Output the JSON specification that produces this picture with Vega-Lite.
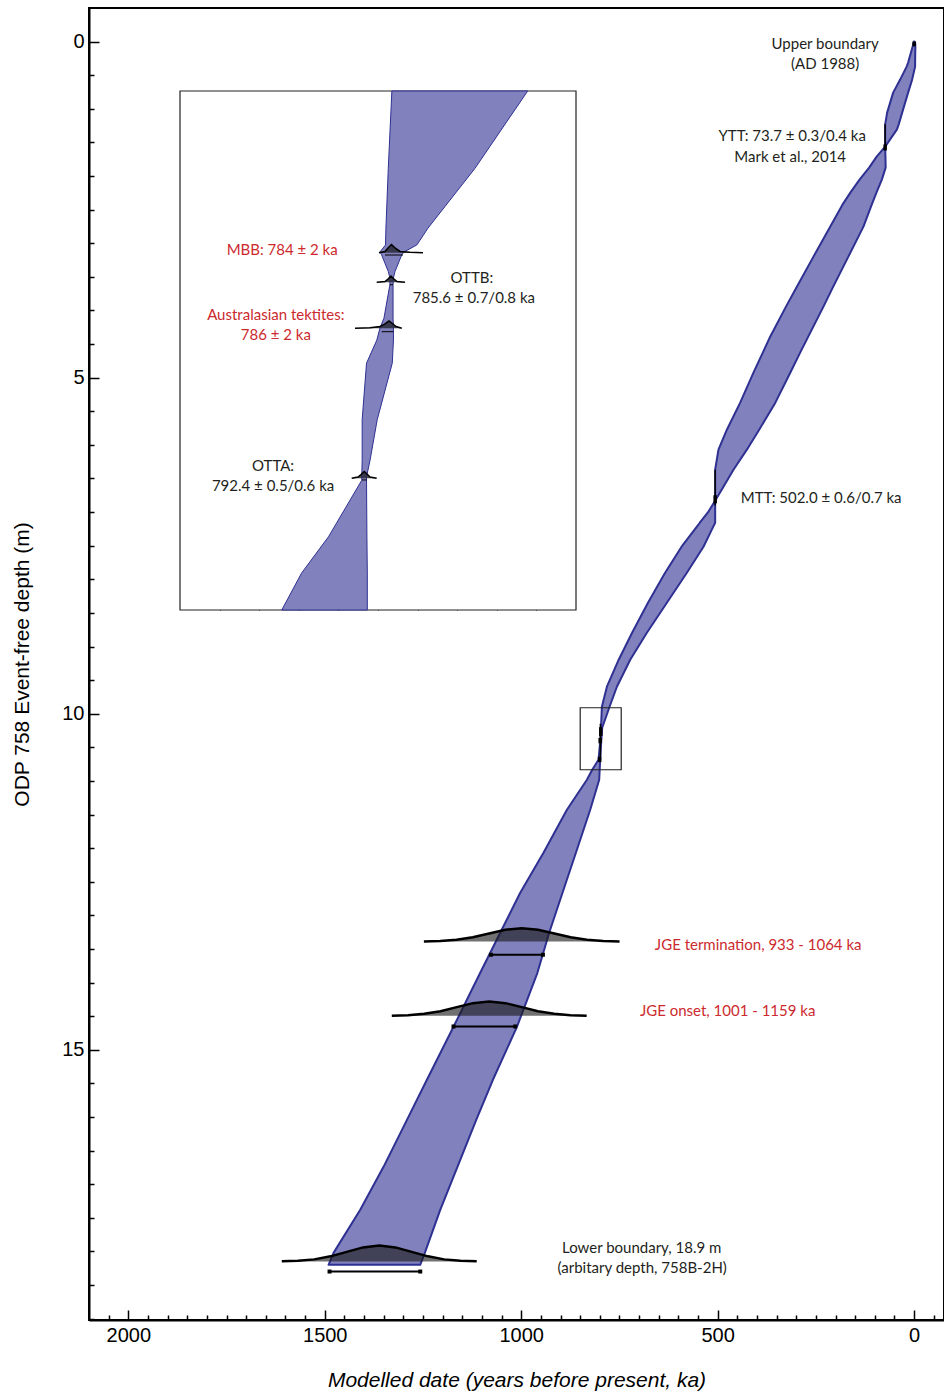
{
  "$schema": "https://vega.github.io/schema/vega-lite/v6.json",
  "width": 855,
  "height": 1312,
  "autosize": {"type": "none"},
  "padding": {"left": 89, "top": 8, "right": 0, "bottom": 71},
  "background": "white",
  "config": {
    "view": {"stroke": "black", "strokeWidth": 2},
    "axis": {"grid": false, "domainColor": "black", "tickColor": "black", "labelColor": "black", "titleColor": "black", "zindex": 1},
    "text": {"font": "Lato", "fontSize": 15}
  },
  "datasets": {
    "band": [
      {"depth": 0, "older": 0.5, "younger": -1},
      {"depth": 0.015, "older": 1.3, "younger": -2.5},
      {"depth": 0.074, "older": 3.8, "younger": -3.1},
      {"depth": 0.3125, "older": 15.3, "younger": -2.5},
      {"depth": 0.372, "older": 19.1, "younger": -2.5},
      {"depth": 0.565, "older": 35.6, "younger": 5.1},
      {"depth": 0.759, "older": 53.4, "younger": 15.3},
      {"depth": 1.057, "older": 68.7, "younger": 30.5},
      {"depth": 1.235, "older": 73.8, "younger": 39.4},
      {"depth": 1.31, "older": 73.8, "younger": 44.0},
      {"depth": 1.5625, "older": 73.8, "younger": 73.8},
      {"depth": 1.711, "older": 95.4, "younger": 73.0},
      {"depth": 1.875, "older": 114.5, "younger": 72.5},
      {"depth": 2.054, "older": 138.9, "younger": 82.2},
      {"depth": 2.232, "older": 160.6, "younger": 94.9},
      {"depth": 2.426, "older": 182.4, "younger": 107.9},
      {"depth": 2.753, "older": 213.7, "younger": 129.0},
      {"depth": 3.199, "older": 256.2, "younger": 167.4},
      {"depth": 3.646, "older": 298.5, "younger": 205.9},
      {"depth": 3.943, "older": 326.2, "younger": 230.8},
      {"depth": 4.39, "older": 366.4, "younger": 269.5},
      {"depth": 4.628, "older": 385.2, "younger": 290.1},
      {"depth": 4.926, "older": 408.9, "younger": 315.3},
      {"depth": 5.372, "older": 442.7, "younger": 353.2},
      {"depth": 5.774, "older": 476.6, "younger": 394.4},
      {"depth": 6.071, "older": 498.0, "younger": 425.7},
      {"depth": 6.369, "older": 506.4, "younger": 459.8},
      {"depth": 6.83, "older": 506.4, "younger": 506.4},
      {"depth": 7.009, "older": 525.4, "younger": 506.4},
      {"depth": 7.158, "older": 545.5, "younger": 506.4},
      {"depth": 7.217, "older": 552.9, "younger": 511.2},
      {"depth": 7.515, "older": 591.9, "younger": 536.1},
      {"depth": 7.902, "older": 633.8, "younger": 578.4},
      {"depth": 8.348, "older": 677.4, "younger": 629.3},
      {"depth": 8.795, "older": 717.8, "younger": 680.2},
      {"depth": 9.196, "older": 751.9, "younger": 722.6},
      {"depth": 9.598, "older": 781.9, "younger": 756.5},
      {"depth": 9.896, "older": 794.7, "younger": 775.1},
      {"depth": 10.208, "older": 797.0, "younger": 793.9},
      {"depth": 10.417, "older": 799.0, "younger": 796.4},
      {"depth": 10.685, "older": 803.3, "younger": 799.0},
      {"depth": 10.833, "older": 819.3, "younger": 800.3},
      {"depth": 10.982, "older": 832.8, "younger": 801.5},
      {"depth": 11.429, "older": 883.7, "younger": 824.4},
      {"depth": 12.068, "older": 943.3, "younger": 860.8},
      {"depth": 12.664, "older": 1002.5, "younger": 894.9},
      {"depth": 13.259, "older": 1053.4, "younger": 928.8},
      {"depth": 13.854, "older": 1104.3, "younger": 958.8},
      {"depth": 14.658, "older": 1172.3, "younger": 1010.9},
      {"depth": 15.446, "older": 1240.0, "younger": 1072.0},
      {"depth": 16.042, "older": 1290.8, "younger": 1114.5},
      {"depth": 16.741, "older": 1350.4, "younger": 1162.3},
      {"depth": 17.381, "older": 1409.7, "younger": 1206.1},
      {"depth": 18.021, "older": 1477.6, "younger": 1245.3},
      {"depth": 18.199, "older": 1490.3, "younger": 1257.0}
    ],
    "dists": [
      {"event": "JGE termination", "age": 749.7, "top": 13.388, "base": 13.39},
      {"event": "JGE termination", "age": 791.2, "top": 13.381, "base": 13.39},
      {"event": "JGE termination", "age": 832.7, "top": 13.363, "base": 13.39},
      {"event": "JGE termination", "age": 874.2, "top": 13.325, "base": 13.39},
      {"event": "JGE termination", "age": 915.7, "top": 13.269, "base": 13.39},
      {"event": "JGE termination", "age": 957.2, "top": 13.214, "base": 13.39},
      {"event": "JGE termination", "age": 998.7, "top": 13.19, "base": 13.39},
      {"event": "JGE termination", "age": 1040.2, "top": 13.214, "base": 13.39},
      {"event": "JGE termination", "age": 1081.7, "top": 13.269, "base": 13.39},
      {"event": "JGE termination", "age": 1123.2, "top": 13.325, "base": 13.39},
      {"event": "JGE termination", "age": 1164.7, "top": 13.363, "base": 13.39},
      {"event": "JGE termination", "age": 1206.2, "top": 13.381, "base": 13.39},
      {"event": "JGE termination", "age": 1247.7, "top": 13.388, "base": 13.39},
      {"event": "JGE onset", "age": 833.4, "top": 14.492, "base": 14.494},
      {"event": "JGE onset", "age": 874.7, "top": 14.485, "base": 14.494},
      {"event": "JGE onset", "age": 916.0, "top": 14.465, "base": 14.494},
      {"event": "JGE onset", "age": 957.4, "top": 14.425, "base": 14.494},
      {"event": "JGE onset", "age": 998.7, "top": 14.365, "base": 14.494},
      {"event": "JGE onset", "age": 1040.1, "top": 14.306, "base": 14.494},
      {"event": "JGE onset", "age": 1081.4, "top": 14.281, "base": 14.494},
      {"event": "JGE onset", "age": 1122.7, "top": 14.306, "base": 14.494},
      {"event": "JGE onset", "age": 1164.1, "top": 14.365, "base": 14.494},
      {"event": "JGE onset", "age": 1205.4, "top": 14.425, "base": 14.494},
      {"event": "JGE onset", "age": 1246.8, "top": 14.465, "base": 14.494},
      {"event": "JGE onset", "age": 1288.1, "top": 14.485, "base": 14.494},
      {"event": "JGE onset", "age": 1329.4, "top": 14.492, "base": 14.494},
      {"event": "Lower boundary", "age": 1113.3, "top": 18.147, "base": 18.15},
      {"event": "Lower boundary", "age": 1154.6, "top": 18.14, "base": 18.15},
      {"event": "Lower boundary", "age": 1196.0, "top": 18.118, "base": 18.15},
      {"event": "Lower boundary", "age": 1237.3, "top": 18.073, "base": 18.15},
      {"event": "Lower boundary", "age": 1278.7, "top": 18.006, "base": 18.15},
      {"event": "Lower boundary", "age": 1320.0, "top": 17.94, "base": 18.15},
      {"event": "Lower boundary", "age": 1361.3, "top": 17.912, "base": 18.15},
      {"event": "Lower boundary", "age": 1402.6, "top": 17.94, "base": 18.15},
      {"event": "Lower boundary", "age": 1444.0, "top": 18.006, "base": 18.15},
      {"event": "Lower boundary", "age": 1485.3, "top": 18.073, "base": 18.15},
      {"event": "Lower boundary", "age": 1526.7, "top": 18.118, "base": 18.15},
      {"event": "Lower boundary", "age": 1568.0, "top": 18.14, "base": 18.15},
      {"event": "Lower boundary", "age": 1609.3, "top": 18.147, "base": 18.15}
    ],
    "brackets": [
      {"event": "JGE termination", "older": 1077.1, "younger": 944.8, "depth": 13.586},
      {"event": "JGE onset", "older": 1172.3, "younger": 1015.3, "depth": 14.653},
      {"event": "Lower boundary", "older": 1487.8, "younger": 1257.0, "depth": 18.299}
    ],
    "nodes": [
      {"event": "YTT", "age": 73.8, "d1": 1.23, "d2": 1.6},
      {"event": "MTT", "age": 506.4, "d1": 6.37, "d2": 6.9},
      {"event": "inset", "age": 798.5, "d1": 10.15, "d2": 10.7}
    ],
    "nodeDots": [
      {"event": "Upper boundary", "age": 0, "d1": 0.0, "d2": 0.07},
      {"event": "YTT", "age": 73.8, "d1": 1.53, "d2": 1.62},
      {"event": "MTT", "age": 506.4, "d1": 6.75, "d2": 6.87},
      {"event": "MBB", "age": 797.5, "d1": 10.2, "d2": 10.33},
      {"event": "OTTB", "age": 799.0, "d1": 10.36, "d2": 10.44},
      {"event": "OTTA", "age": 800.5, "d1": 10.64, "d2": 10.72}
    ],
    "notes": [
      {"text": "Upper boundary", "age": 226.5, "depth": 0.03, "kind": "model"},
      {"text": "(AD 1988)", "age": 226.5, "depth": 0.327, "kind": "model"},
      {"text": "YTT: 73.7 ± 0.3/0.4 ka", "age": 310.4, "depth": 1.399, "kind": "model"},
      {"text": "Mark et al., 2014", "age": 315.5, "depth": 1.711, "kind": "model"},
      {"text": "MTT: 502.0 ± 0.6/0.7 ka", "age": 236.6, "depth": 6.786, "kind": "model"},
      {"text": "JGE termination, 933 - 1064 ka", "age": 397, "depth": 13.44, "kind": "reference"},
      {"text": "JGE onset, 1001 - 1159 ka", "age": 474.6, "depth": 14.43, "kind": "reference"},
      {"text": "Lower boundary, 18.9 m", "age": 693.4, "depth": 17.95, "kind": "model"},
      {"text": "(arbitary depth, 758B-2H)", "age": 692.1, "depth": 18.244, "kind": "model"}
    ],
    "insetBand": [
      {"depth": 9.9, "older": 796.5, "younger": 762.2},
      {"depth": 10.034, "older": 797.4, "younger": 775.5},
      {"depth": 10.138, "older": 798.0, "younger": 787.4},
      {"depth": 10.167, "older": 798.1, "younger": 790.2},
      {"depth": 10.179, "older": 799.5, "younger": 793.4},
      {"depth": 10.184, "older": 799.1, "younger": 794.0},
      {"depth": 10.213, "older": 797.4, "younger": 795.7},
      {"depth": 10.224, "older": 797.0, "younger": 796.1},
      {"depth": 10.236, "older": 797.0, "younger": 796.2},
      {"depth": 10.294, "older": 798.5, "younger": 796.2},
      {"depth": 10.311, "older": 799.5, "younger": 796.1},
      {"depth": 10.332, "older": 800.3, "younger": 796.1},
      {"depth": 10.372, "older": 802.9, "younger": 796.4},
      {"depth": 10.47, "older": 804.0, "younger": 800.2},
      {"depth": 10.54, "older": 804.0, "younger": 802.0},
      {"depth": 10.569, "older": 804.1, "younger": 802.9},
      {"depth": 10.575, "older": 804.1, "younger": 802.9},
      {"depth": 10.673, "older": 812.5, "younger": 802.8},
      {"depth": 10.736, "older": 819.3, "younger": 802.7},
      {"depth": 10.8, "older": 824.3, "younger": 802.7}
    ],
    "insetDists": [
      {"event": "MBB", "age": 799.75, "top": 10.1804, "base": 10.1804},
      {"event": "MBB", "age": 798.23, "top": 10.1783, "base": 10.1804},
      {"event": "MBB", "age": 797.47, "top": 10.1722, "base": 10.1804},
      {"event": "MBB", "age": 796.59, "top": 10.1662, "base": 10.1804},
      {"event": "MBB", "age": 795.71, "top": 10.1722, "base": 10.1804},
      {"event": "MBB", "age": 794.44, "top": 10.1783, "base": 10.1804},
      {"event": "MBB", "age": 791.92, "top": 10.1798, "base": 10.1804},
      {"event": "MBB", "age": 788.64, "top": 10.1804, "base": 10.1804},
      {"event": "OTTB", "age": 800.33, "top": 10.2317, "base": 10.2317},
      {"event": "OTTB", "age": 798.23, "top": 10.2303, "base": 10.2317},
      {"event": "OTTB", "age": 797.47, "top": 10.226, "base": 10.2317},
      {"event": "OTTB", "age": 796.72, "top": 10.2208, "base": 10.2317},
      {"event": "OTTB", "age": 795.96, "top": 10.226, "base": 10.2317},
      {"event": "OTTB", "age": 795.2, "top": 10.2303, "base": 10.2317},
      {"event": "OTTB", "age": 793.18, "top": 10.2317, "base": 10.2317},
      {"event": "Australasian tektites", "age": 805.81, "top": 10.3115, "base": 10.3115},
      {"event": "Australasian tektites", "age": 802.02, "top": 10.3106, "base": 10.3115},
      {"event": "Australasian tektites", "age": 799.49, "top": 10.3084, "base": 10.3115},
      {"event": "Australasian tektites", "age": 798.23, "top": 10.304, "base": 10.3115},
      {"event": "Australasian tektites", "age": 797.22, "top": 10.2988, "base": 10.3115},
      {"event": "Australasian tektites", "age": 796.21, "top": 10.304, "base": 10.3115},
      {"event": "Australasian tektites", "age": 795.45, "top": 10.3084, "base": 10.3115},
      {"event": "Australasian tektites", "age": 794.0, "top": 10.3115, "base": 10.3115},
      {"event": "OTTA", "age": 806.64, "top": 10.5716, "base": 10.5716},
      {"event": "OTTA", "age": 805.05, "top": 10.5693, "base": 10.5716},
      {"event": "OTTA", "age": 804.29, "top": 10.565, "base": 10.5716},
      {"event": "OTTA", "age": 803.46, "top": 10.5598, "base": 10.5716},
      {"event": "OTTA", "age": 802.65, "top": 10.565, "base": 10.5716},
      {"event": "OTTA", "age": 802.02, "top": 10.5693, "base": 10.5716},
      {"event": "OTTA", "age": 800.33, "top": 10.5716, "base": 10.5716}
    ],
    "insetBrackets": [
      {"event": "MBB", "older": 798.23, "younger": 793.69, "depth": 10.1844},
      {"event": "OTTB", "older": 797.0, "younger": 796.2, "depth": 10.236},
      {"event": "Australasian tektites", "older": 799.07, "younger": 796.14, "depth": 10.3174},
      {"event": "OTTA", "older": 804.04, "younger": 802.78, "depth": 10.5745}
    ],
    "insetNotes": [
      {"text": "MBB: 784 ± 2 ka", "age": 824.2, "depth": 10.176, "kind": "reference"},
      {"text": "OTTB:", "age": 776.3, "depth": 10.224, "kind": "model"},
      {"text": "785.6 ± 0.7/0.8 ka", "age": 775.8, "depth": 10.259, "kind": "model"},
      {"text": "Australasian tektites:", "age": 825.8, "depth": 10.288, "kind": "reference"},
      {"text": "786 ± 2 ka", "age": 825.8, "depth": 10.323, "kind": "reference"},
      {"text": "OTTA:", "age": 826.5, "depth": 10.55, "kind": "model"},
      {"text": "792.4 ± 0.5/0.6 ka", "age": 826.5, "depth": 10.585, "kind": "model"}
    ]
  },
  "layer": [
    {
      "layer": [
        {
          "data": {"name": "band"},
          "mark": {"type": "area", "orient": "horizontal", "fill": "#8181bd", "stroke": "#2e3192", "strokeWidth": 2, "strokeJoin": "round"},
          "encoding": {
            "y": {"field": "depth", "type": "quantitative",
              "scale": {"domain": [-0.5, 19.02], "reverse": true, "nice": false, "zero": false},
              "axis": {"orient": "left", "title": "ODP 758 Event-free depth (m)", "titleFont": "Liberation Sans", "titleFontSize": 21, "titleFontWeight": "normal", "titlePadding": 29,
                "values": [0, 5, 10, 15], "format": "d",
                "labelOverlap": false, "labelFlush": false, "labelFont": "Liberation Sans", "labelFontSize": 20, "labelPadding": 15,
                "tickSize": -10, "tickWidth": 1.5, "domainWidth": 2}},
            "x": {"field": "older", "type": "quantitative",
              "scale": {"domain": [-76, 2100], "reverse": true, "nice": false, "zero": false},
              "axis": {"orient": "bottom", "title": "Modelled date (years before present, ka)", "titleFont": "Liberation Sans", "titleFontSize": 21, "titleFontStyle": "italic", "titleFontWeight": "normal", "titlePadding": 24,
                "values": [0, 500, 1000, 1500, 2000], "format": "d",
                "labelOverlap": false, "labelFlush": false, "labelFont": "Liberation Sans", "labelFontSize": 20, "labelPadding": 15,
                "tickSize": -10, "tickWidth": 1.5, "domainWidth": 2}},
            "x2": {"field": "younger"}
          }
        },
        {
          "data": {"values": [{}]},
          "mark": {"type": "rect", "fill": "transparent", "stroke": "#222222", "strokeWidth": 1.2},
          "encoding": {
            "x": {"datum": 849.9, "type": "quantitative"},
            "x2": {"datum": 745.5},
            "y": {"datum": 9.911, "type": "quantitative"},
            "y2": {"datum": 10.833}
          }
        },
        {
          "data": {"name": "dists"},
          "mark": {"type": "area", "orient": "vertical", "fill": "#1a1a1a", "fillOpacity": 0.62},
          "encoding": {
            "x": {"field": "age", "type": "quantitative"},
            "y": {"field": "top", "type": "quantitative"},
            "y2": {"field": "base"},
            "detail": {"field": "event"}
          }
        },
        {
          "data": {"name": "dists"},
          "mark": {"type": "line", "color": "black", "strokeWidth": 2.5},
          "encoding": {
            "x": {"field": "age", "type": "quantitative"},
            "y": {"field": "top", "type": "quantitative"},
            "detail": {"field": "event"}
          }
        },
        {
          "data": {"name": "brackets"},
          "mark": {"type": "rule", "color": "black", "strokeWidth": 2},
          "encoding": {
            "x": {"field": "older", "type": "quantitative"},
            "x2": {"field": "younger"},
            "y": {"field": "depth", "type": "quantitative"}
          }
        },
        {
          "data": {"name": "brackets"},
          "transform": [{"fold": ["older", "younger"], "as": ["end", "age"]}],
          "mark": {"type": "square", "color": "black", "size": 16, "opacity": 1},
          "encoding": {
            "x": {"field": "age", "type": "quantitative"},
            "y": {"field": "depth", "type": "quantitative"}
          }
        },
        {
          "data": {"name": "nodes"},
          "mark": {"type": "rule", "color": "black", "strokeWidth": 1.5},
          "encoding": {
            "x": {"field": "age", "type": "quantitative"},
            "y": {"field": "d1", "type": "quantitative"},
            "y2": {"field": "d2"}
          }
        },
        {
          "data": {"name": "nodeDots"},
          "mark": {"type": "rule", "color": "black", "strokeWidth": 3.5},
          "encoding": {
            "x": {"field": "age", "type": "quantitative"},
            "y": {"field": "d1", "type": "quantitative"},
            "y2": {"field": "d2"}
          }
        },
        {
          "data": {"name": "notes"},
          "mark": {"type": "text", "align": "center", "baseline": "middle"},
          "encoding": {
            "x": {"field": "age", "type": "quantitative"},
            "y": {"field": "depth", "type": "quantitative"},
            "text": {"field": "text"},
            "color": {"field": "kind", "type": "nominal", "scale": {"domain": ["model", "reference"], "range": ["#231f20", "#cc2a2e"]}, "legend": null}
          }
        }
      ]
    },
    {
      "data": {"values": [{}]},
      "mark": {"type": "point", "opacity": 0},
      "encoding": {
        "x": {"datum": 0, "type": "quantitative",
          "scale": {"domain": [-76, 2100], "reverse": true, "nice": false, "zero": false},
          "axis": {"orient": "bottom", "title": null, "labels": false, "domain": false,
            "values": [-50,50,100,150,200,250,300,350,400,450,550,600,650,700,750,800,850,900,950,1050,1100,1150,1200,1250,1300,1350,1400,1450,1550,1600,1650,1700,1750,1800,1850,1900,1950,2050],
            "tickSize": -5, "tickWidth": 1.5}},
        "y": {"datum": 0, "type": "quantitative",
          "scale": {"domain": [-0.5, 19.02], "reverse": true, "nice": false, "zero": false},
          "axis": {"orient": "left", "title": null, "labels": false, "domain": false,
            "values": [0.5,1,1.5,2,2.5,3,3.5,4,4.5,5.5,6,6.5,7,7.5,8,8.5,9,9.5,10.5,11,11.5,12,12.5,13,13.5,14,14.5,15.5,16,16.5,17,17.5,18,18.5,19],
            "tickSize": -5, "tickWidth": 1.5}}
      }
    },
    {
      "layer": [
        {
          "data": {"values": [{}]},
          "mark": {"type": "rect", "fill": "white", "stroke": "#222222", "strokeWidth": 1.2},
          "encoding": {
            "x": {"datum": 850, "type": "quantitative",
              "scale": {"domain": [750, 850], "range": [487, 91], "nice": false, "zero": false},
              "axis": {"orient": "bottom", "offset": -710, "title": null, "labels": false, "domain": false,
                "values": [760,770,780,790,800,810,820,830,840],
                "tickSize": -5, "tickWidth": 1}},
            "x2": {"datum": 750},
            "y": {"datum": 9.9, "type": "quantitative",
              "scale": {"domain": [9.9, 10.8], "range": [83, 602], "nice": false, "zero": false},
              "axis": {"orient": "left", "offset": -91, "title": null, "labels": false, "domain": false,
                "values": [9.95,10,10.05,10.1,10.15,10.2,10.25,10.3,10.35,10.4,10.45,10.5,10.55,10.6,10.65,10.7,10.75],
                "tickSize": -5, "tickWidth": 1}},
            "y2": {"datum": 10.8}
          }
        },
        {
          "data": {"name": "insetBand"},
          "mark": {"type": "area", "orient": "horizontal", "fill": "#8181bd", "stroke": "#2e3192", "strokeWidth": 1},
          "encoding": {
            "y": {"field": "depth", "type": "quantitative"},
            "x": {"field": "older", "type": "quantitative"},
            "x2": {"field": "younger"}
          }
        },
        {
          "data": {"name": "insetDists"},
          "mark": {"type": "area", "orient": "vertical", "fill": "#2a2a3a", "fillOpacity": 0.85},
          "encoding": {
            "x": {"field": "age", "type": "quantitative"},
            "y": {"field": "top", "type": "quantitative"},
            "y2": {"field": "base"},
            "detail": {"field": "event"}
          }
        },
        {
          "data": {"name": "insetDists"},
          "mark": {"type": "line", "color": "black", "strokeWidth": 1.5},
          "encoding": {
            "x": {"field": "age", "type": "quantitative"},
            "y": {"field": "top", "type": "quantitative"},
            "detail": {"field": "event"}
          }
        },
        {
          "data": {"name": "insetBrackets"},
          "mark": {"type": "rule", "color": "black", "strokeWidth": 1},
          "encoding": {
            "x": {"field": "older", "type": "quantitative"},
            "x2": {"field": "younger"},
            "y": {"field": "depth", "type": "quantitative"}
          }
        },
        {
          "data": {"name": "insetNotes"},
          "mark": {"type": "text", "align": "center", "baseline": "middle"},
          "encoding": {
            "x": {"field": "age", "type": "quantitative"},
            "y": {"field": "depth", "type": "quantitative"},
            "text": {"field": "text"},
            "color": {"field": "kind", "type": "nominal", "scale": {"domain": ["model", "reference"], "range": ["#231f20", "#cc2a2e"]}, "legend": null}
          }
        }
      ]
    }
  ],
  "resolve": {"scale": {"x": "independent", "y": "independent"}}
}
